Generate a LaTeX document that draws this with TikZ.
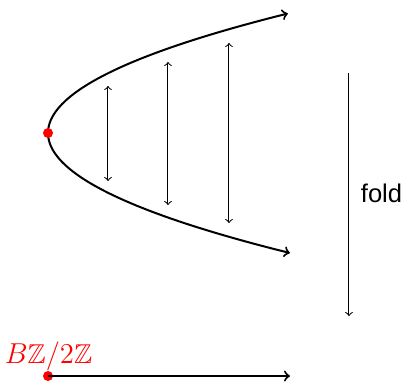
\documentclass[tikz,border=0pt]{standalone}
\usepackage{amssymb}
\usepackage{fontspec}
\setsansfont{Liberation Sans}
\begin{document}
\begin{tikzpicture}[x=0.5pt,y=-0.5pt,
  curve/.style={line width=1pt},
  thinarrow/.style={line width=0.5pt,<->},
  reddot/.style={circle,fill=red,inner sep=0pt,minimum size=5pt}]
\useasboundingbox (0,0) rectangle (403,382);
% parabola
\draw[curve,<->] plot[domain=120:-119.5,samples=80,smooth] ({48+0.0168*\x*\x},{133+\x});
\node[reddot] (v) at (48,133) {};
% vertical double arrows
\coordinate (a1) at (108,86); \coordinate (b1) at (108,181);
\coordinate (a2) at (168,62); \coordinate (b2) at (168,205);
\coordinate (a3) at (229,43); \coordinate (b3) at (229,223);
\draw[thinarrow] (a1) -- (b1);
\draw[thinarrow] (a2) -- (b2);
\draw[thinarrow] (a3) -- (b3);
% fold arrow
\coordinate (f1) at (349,73); \coordinate (f2) at (349,316);
\draw[line width=0.5pt,->] (f1) -- (f2);
\node[anchor=west,inner sep=0pt,font=\sffamily\fontsize{12.8}{14}\selectfont] (fold) at (360.5,193) {fold};
% bottom line
\node[reddot] (p) at (48,376) {};
\coordinate (e) at (290,376);
\draw[curve,->] (p.center) -- (e);
\node[text=red,inner sep=0pt,anchor=base,font=\fontsize{13.6}{15}\selectfont] (lab) at (48.5,363) {$B\mathbb{Z}/2\mathbb{Z}$};
\end{tikzpicture}
\end{document}
